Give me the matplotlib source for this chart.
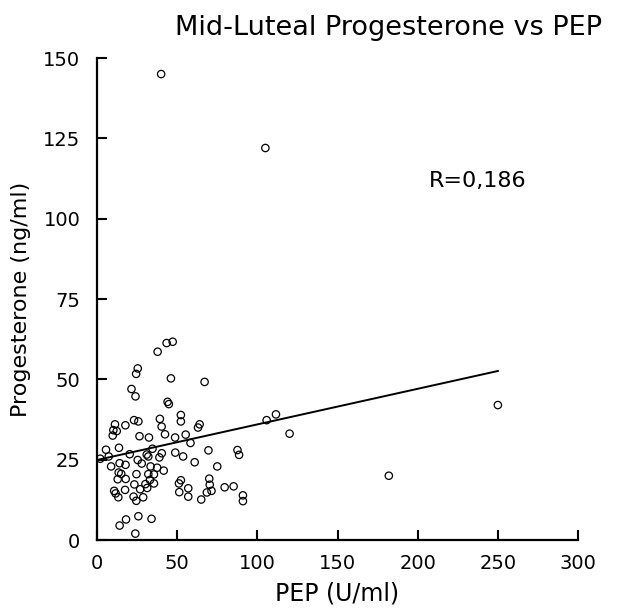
import matplotlib.pyplot as plt

# PEP (U/ml) vs mid-luteal progesterone (ng/ml)
pep = [40, 105, 250, 182, 43.4, 47.2, 37.8, 25.4, 24.4, 46.1, 67.1, 21.5, 24.0,
       44.0, 44.8, 52.3, 52.3, 11.2, 23.1, 25.8, 17.7, 39.2, 40.3, 64.0, 63.0,
       10.2, 12.3, 9.8, 26.5, 32.4, 42.4, 48.7, 55.3, 58.3, 5.6, 13.7, 34.6,
       20.4, 31.0, 32.0, 40.4, 48.8, 69.5, 87.6, 88.6, 7.3, 2.0, 25.4, 38.9,
       53.7, 8.8, 14.1, 17.8, 27.9, 33.4, 37.5, 41.6, 60.9, 75.0, 13.5, 15.1,
       24.6, 32.0, 35.5, 12.9, 17.9, 33.0, 52.3, 70.0, 51.1, 30.2, 35.5, 23.3,
       70.3, 10.7, 11.6, 17.5, 26.9, 31.3, 56.9, 79.6, 85.2, 71.4, 68.5, 51.3,
       13.3, 22.8, 28.8, 24.5, 56.9, 65.0, 91.0, 91.0, 25.8, 18.1, 14.1, 34.0,
       23.9, 105.8, 111.6, 120.1]
progesterone = [145, 122, 42, 20, 61.3, 61.7, 58.6, 53.4, 51.7, 50.3, 49.2, 47.0,
                44.7, 43.0, 42.3, 38.9, 36.9, 36.0, 37.3, 36.9, 35.7, 37.7, 35.3,
                36.0, 35.0, 34.2, 33.9, 32.5, 32.3, 31.9, 32.9, 31.9, 32.8, 30.2,
                28.1, 28.7, 28.4, 26.7, 26.6, 26.0, 27.0, 27.2, 27.9, 28.0, 26.5,
                26.0, 25.3, 24.9, 25.7, 26.0, 22.9, 23.9, 23.4, 23.8, 22.9, 22.5,
                21.6, 24.2, 22.9, 21.0, 20.6, 20.5, 20.5, 20.4, 18.9, 19.0, 18.7,
                18.6, 19.1, 17.6, 17.4, 17.6, 17.3, 17.2, 15.3, 14.5, 15.6, 15.8,
                16.2, 16.1, 16.4, 16.7, 15.3, 14.8, 14.9, 13.3, 13.5, 13.3, 12.2,
                13.5, 12.6, 13.9, 12.1, 7.4, 6.4, 4.5, 6.6, 2.0, 37.3, 39.1, 33.1]

# regression line end points
fit_x = [0, 250]
fit_y = [24.9, 52.6]

x_ticks = [0, 50, 100, 150, 200, 250, 300]
y_ticks = [0, 25, 50, 75, 100, 125, 150]

fig = plt.figure(figsize=(6.32, 6.14), dpi=100)
ax = fig.add_axes([0.1535, 0.1205, 0.7611, 0.785])

ax.scatter(pep, progesterone, s=28, facecolors="none", edgecolors="black",
           linewidths=0.9, zorder=3)
ax.plot(fit_x, fit_y, color="black", linewidth=1.4)

ax.set_xlim(0, 300)
ax.set_ylim(0, 150)
ax.set_xticks(x_ticks)
ax.set_yticks(y_ticks)
ax.tick_params(direction="in", length=7, width=1.5, labelsize=14, pad=10)
ax.tick_params(axis="y", pad=12)

for side in ["top", "right"]:
    ax.spines[side].set_visible(False)
for side in ["left", "bottom"]:
    ax.spines[side].set_linewidth(1.6)

ax.set_xlabel("PEP (U/ml)", fontsize=17, labelpad=6)
ax.set_ylabel("Progesterone (ng/ml)", fontsize=16, labelpad=9)
fig.text(0.614, 0.955, "Mid-Luteal Progesterone vs PEP", fontsize=19.5,
         ha="center", va="center")
ax.text(207, 111.6, "R=0,186", fontsize=16, ha="left", va="center")

fig.savefig("out.png", dpi=100)
